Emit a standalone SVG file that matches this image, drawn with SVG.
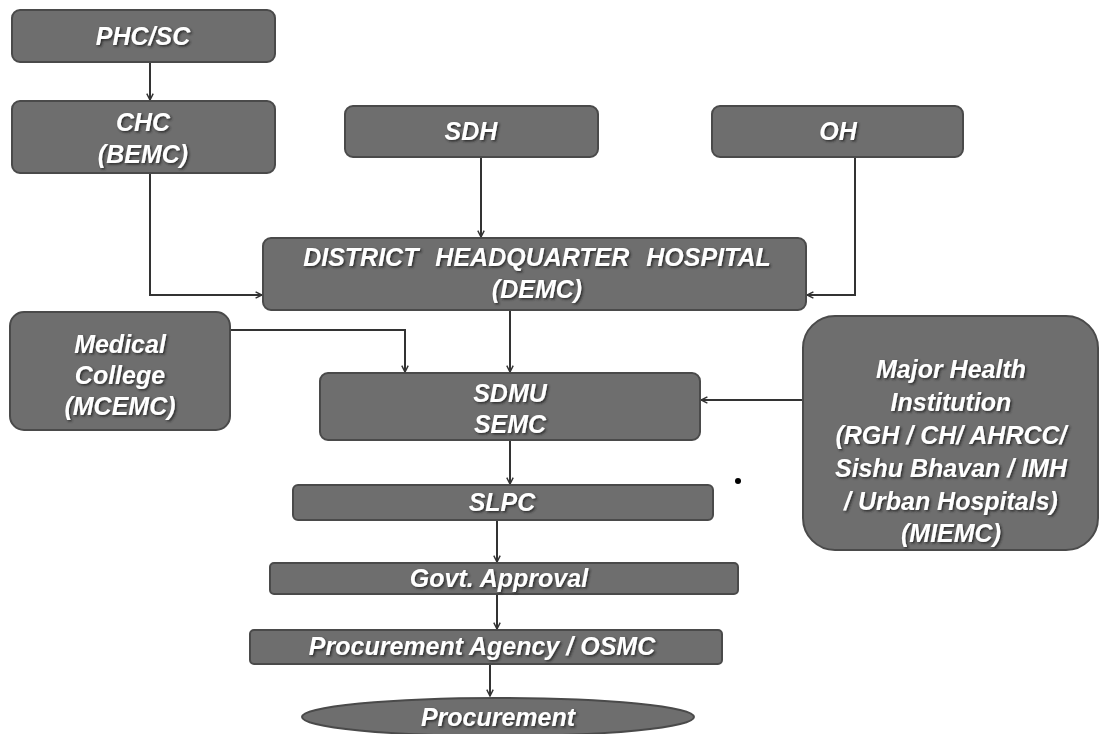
<svg xmlns="http://www.w3.org/2000/svg" width="1107" height="734" viewBox="0 0 1107 734">
<style>
.box{fill:#6e6e6e;stroke:#4a4a4a;stroke-width:2}
.t{font-family:"Liberation Sans",Arial,sans-serif;font-weight:bold;font-style:italic;fill:#ffffff;text-anchor:middle;font-size:25px;filter:url(#sh)}
.c{fill:none;stroke:#333;stroke-width:2}
</style>
<defs>
<filter id="sh" x="-10%" y="-30%" width="120%" height="160%">
<feDropShadow dx="1.5" dy="1.5" stdDeviation="0.8" flood-color="#222" flood-opacity="0.9"/>
</filter>
<marker id="a" viewBox="0 0 10 10" refX="9" refY="5" markerWidth="8" markerHeight="8" orient="auto" markerUnits="userSpaceOnUse">
<path d="M1,1 L9,5 L1,9" fill="none" stroke="#333" stroke-width="1.8"/>
</marker>
</defs>
<rect width="1107" height="734" fill="#ffffff"/>
<g id="connectors">
<path class="c" d="M150,62 V100" marker-end="url(#a)"/>
<path class="c" d="M150,173 V295 H262" marker-end="url(#a)"/>
<path class="c" d="M481,157 V237" marker-end="url(#a)"/>
<path class="c" d="M855,157 V295 H807" marker-end="url(#a)"/>
<path class="c" d="M230,330 H405 V372" marker-end="url(#a)"/>
<path class="c" d="M510,310 V372" marker-end="url(#a)"/>
<path class="c" d="M803,400 H701" marker-end="url(#a)"/>
<path class="c" d="M510,440 V484" marker-end="url(#a)"/>
<path class="c" d="M497,520 V562" marker-end="url(#a)"/>
<path class="c" d="M497,594 V629" marker-end="url(#a)"/>
<path class="c" d="M490,664 V696" marker-end="url(#a)"/>
</g>
<g id="phcsc"><rect class="box" x="12" y="10" width="263" height="52" rx="8"/><text class="t" x="143" y="45">PHC/SC</text></g>
<g id="chc"><rect class="box" x="12" y="101" width="263" height="72" rx="8"/><text class="t" x="143" y="131">CHC</text><text class="t" x="143" y="163">(BEMC)</text></g>
<g id="sdh"><rect class="box" x="345" y="106" width="253" height="51" rx="8"/><text class="t" x="471" y="140">SDH</text></g>
<g id="oh"><rect class="box" x="712" y="106" width="251" height="51" rx="8"/><text class="t" x="838" y="140">OH</text></g>
<g id="dhh"><rect class="box" x="263" y="238" width="543" height="72" rx="8"/><text class="t" x="537" y="266" word-spacing="10">DISTRICT HEADQUARTER HOSPITAL</text><text class="t" x="537" y="298">(DEMC)</text></g>
<g id="medcollege"><rect class="box" x="10" y="312" width="220" height="118" rx="14"/><text class="t" x="120" y="353">Medical</text><text class="t" x="120" y="384">College</text><text class="t" x="120" y="415">(MCEMC)</text></g>
<g id="sdmu"><rect class="box" x="320" y="373" width="380" height="67" rx="8"/><text class="t" x="510" y="402">SDMU</text><text class="t" x="510" y="433">SEMC</text></g>
<g id="major"><rect class="box" x="803" y="316" width="295" height="234" rx="32"/><text class="t" x="951" y="378">Major Health</text><text class="t" x="951" y="411">Institution</text><text class="t" x="951" y="444">(RGH / CH/ AHRCC/</text><text class="t" x="951" y="477">Sishu Bhavan / IMH</text><text class="t" x="951" y="510">/ Urban Hospitals)</text><text class="t" x="951" y="542">(MIEMC)</text></g>
<g id="slpc"><rect class="box" x="293" y="485" width="420" height="35" rx="5"/><text class="t" x="502" y="511">SLPC</text></g>
<g id="govt"><rect class="box" x="270" y="563" width="468" height="31" rx="4"/><text class="t" x="499" y="587">Govt. Approval</text></g>
<g id="agency"><rect class="box" x="250" y="630" width="472" height="34" rx="4"/><text class="t" x="482" y="655">Procurement Agency / OSMC</text></g>
<g id="procurement"><ellipse class="box" cx="498" cy="717" rx="196" ry="19"/><text class="t" x="498" y="726">Procurement</text></g>
<circle cx="738" cy="481" r="3" fill="#000"/>
</svg>
